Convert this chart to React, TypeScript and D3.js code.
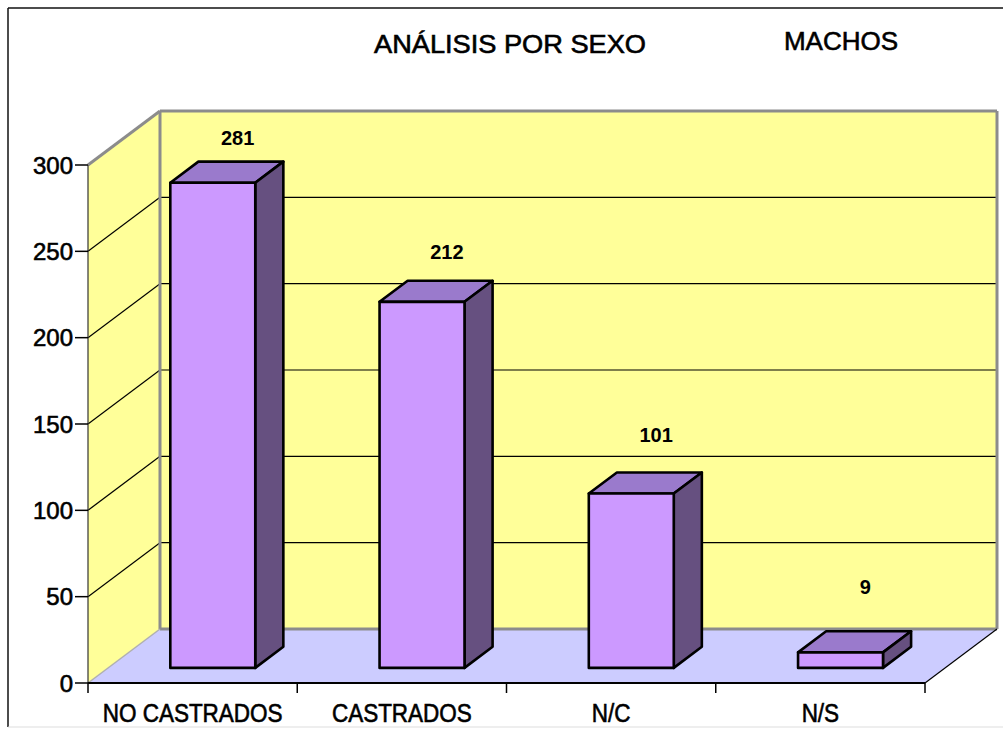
import React from "react";
import * as d3 from "d3";

const categories = ["NO CASTRADOS", "CASTRADOS", "N/C", "N/S"];
const values = [281, 212, 101, 9];
const yTicks = [0, 50, 100, 150, 200, 250, 300];
const title = "ANÁLISIS POR SEXO";
const subtitle = "MACHOS";

const W = 1003;
const H = 729;
const FONT = "'Liberation Sans', Arial, Helvetica, sans-serif";

export default function App() {
  const x0 = 88, x1 = 925, yZero = 683, yMax = 165;
  const dx = 72, dy = -54;
  const z0 = 0.28, z1 = 0.67;

  const yFront = d3.scaleLinear().domain([0, 300]).range([yZero, yMax]);
  const yBack = (v: number) => yFront(v) + dy;
  const x = d3.scaleBand<string>().domain(categories).range([x0, x1]).paddingInner(0.594).paddingOuter(0.297);
  const xEdges = d3.scaleLinear().domain([0, categories.length]).range([x0, x1]);
  const labelY = d3.scaleLinear().domain([0, 300]).range([609, 113.7]);

  const pts = (p: [number, number][]) => p.map((q) => q.join(",")).join(" ");

  const wallFill = "#ffff99";
  const floorFill = "#ccccff";
  const gray = "#8c8c8c";
  const thick = { stroke: "#000", strokeWidth: 0.6 };

  const bx0 = x0 + dx, yb0 = yBack(0), yb300 = yBack(300), bx1 = x1 + dx;

  return (
    <svg width={W} height={H} style={{ position: "absolute", left: 0, top: 0, background: "#fff" }} fontFamily={FONT}>
      {/* outer frame */}
      <line x1={8} y1={8} x2={W} y2={8} stroke="#111" strokeWidth={1.5} />
      <line x1={8} y1={8} x2={8} y2={727} stroke="#111" strokeWidth={1.5} />
      <line x1={8} y1={727} x2={W} y2={727} stroke="#ddd" strokeWidth={1} />

      {/* titles */}
      <text x={510} y={53} textAnchor="middle" fontSize={25} textLength={272} lengthAdjust="spacingAndGlyphs" fill="#000" {...thick}>{title}</text>
      <text x={841} y={50} textAnchor="middle" fontSize={26} fill="#000" {...thick}>{subtitle}</text>

      {/* back wall */}
      <rect x={bx0} y={yb300} width={bx1 - bx0} height={yb0 - yb300} fill={wallFill} />
      {/* left wall */}
      <polygon points={pts([[x0, yZero], [x0, yMax], [bx0, yb300], [bx0, yb0]])} fill={wallFill} />

      {/* gridlines */}
      {yTicks.filter((t) => t > 0 && t < 300).map((t) => (
        <g key={"g" + t}>
          <line x1={bx0} x2={bx1} y1={yBack(t)} y2={yBack(t)} stroke="#000" strokeWidth={1.2} />
          <line x1={x0} y1={yFront(t)} x2={bx0} y2={yBack(t)} stroke="#000" strokeWidth={1.2} />
        </g>
      ))}

      {/* floor */}
      <polygon points={pts([[x0, yZero], [x1, yZero], [bx1, yb0], [bx0, yb0]])} fill={floorFill} />

      {/* wall borders */}
      <line x1={bx0} y1={yb300} x2={bx1} y2={yb300} stroke={gray} strokeWidth={3} />
      <line x1={bx1} y1={yb300} x2={bx1} y2={yb0} stroke={gray} strokeWidth={3} />
      <line x1={bx0} y1={yb300} x2={bx0} y2={yb0} stroke={gray} strokeWidth={3} />
      <line x1={bx0} y1={yb0} x2={bx1} y2={yb0} stroke={gray} strokeWidth={3} />
      <line x1={x0} y1={yMax} x2={bx0} y2={yb300} stroke={gray} strokeWidth={3} />
      <line x1={x0} y1={yZero} x2={bx0} y2={yb0} stroke="#b0b0b0" strokeWidth={1.5} />
      <line x1={x1} y1={yZero} x2={bx1} y2={yb0} stroke="#000" strokeWidth={1.2} />

      {/* y axis */}
      <line x1={x0} y1={yZero} x2={x0} y2={yMax} stroke="#333" strokeWidth={1.2} />
      {yTicks.map((t) => (
        <g key={"t" + t}>
          <line x1={x0 - 13} x2={x0} y1={yFront(t)} y2={yFront(t)} stroke="#000" strokeWidth={1.5} />
          <text x={x0 - 15} y={yFront(t)} dy="0.36em" textAnchor="end" fontSize={24} fill="#000" {...thick}>{t}</text>
        </g>
      ))}

      {/* x axis */}
      <line x1={x0} y1={yZero} x2={x1} y2={yZero} stroke="#000" strokeWidth={2.2} />
      {d3.range(categories.length + 1).map((i) => (
        <line key={"xt" + i} x1={xEdges(i)} x2={xEdges(i)} y1={yZero} y2={yZero + 10} stroke="#000" strokeWidth={1.5} />
      ))}
      {categories.map((c) => {
        const cx = (x(c) as number) + x.bandwidth() / 2;
        return (
          <text key={"c" + c} transform={`translate(${cx},722) scale(0.9,1)`} textAnchor="middle" fontSize={25} fill="#000" {...thick}>{c}</text>
        );
      })}

      {/* bars */}
      {categories.map((c, i) => {
        const v = values[i];
        const xl = x(c) as number;
        const xr = xl + x.bandwidth();
        const yt = yFront(v);
        const yb = yFront(0);
        const ax = z0 * dx, ay = z0 * dy, bx = z1 * dx, by = z1 * dy;
        return (
          <g key={"b" + c} stroke="#000" strokeWidth={2.6} strokeLinejoin="round">
            <polygon points={pts([[xl + ax, yt + ay], [xr + ax, yt + ay], [xr + bx, yt + by], [xl + bx, yt + by]])} fill="#9a7acc" />
            <polygon points={pts([[xr + ax, yt + ay], [xr + bx, yt + by], [xr + bx, yb + by], [xr + ax, yb + ay]])} fill="#665080" />
            <rect x={xl + ax} y={yt + ay} width={xr - xl} height={yb - yt} fill="#cc99ff" />
          </g>
        );
      })}

      {/* value labels */}
      {categories.map((c, i) => (
        <text key={"v" + c} x={(x(c) as number) + x.bandwidth() / 2 + 45} y={labelY(values[i])} textAnchor="middle" fontSize={20} fontWeight="bold" fill="#000">{values[i]}</text>
      ))}
    </svg>
  );
}
